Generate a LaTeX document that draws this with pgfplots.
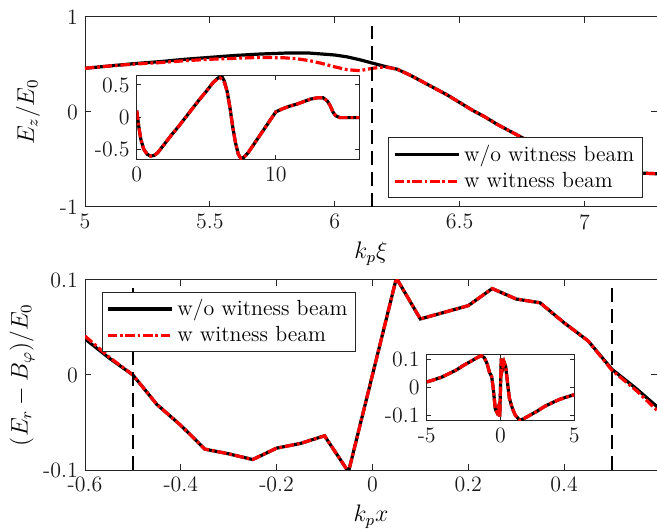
\documentclass[border=0pt]{standalone}
\usepackage{pgfplots}
\pgfplotsset{compat=1.18}
\begin{document}
\begin{tikzpicture}
\pgfplotsset{
  mat/.style={
    scale only axis, anchor=south west,
    axis background/.style={fill=white},
    tick align=inside,
    axis line style={line width=0.5bp, black!85},
    every tick/.style={line width=0.5bp, black!85},
    major tick length=3bp,
    tick label style={font=\fontsize{11}{13}\selectfont, text=black!90, inner sep=0.8bp},
    xticklabel style={yshift=-2.6bp},
    yticklabel style={xshift=-2.6bp},
    label style={font=\fontsize{11.5}{13}\selectfont},
    /pgf/number format/assume math mode=true,
    legend image code/.code={\draw[##1] (0bp,0bp) -- (32bp,0bp);},
  },
  wo/.style={black, line width=1.6bp},
  ww/.style={red, line width=1.6bp, dash pattern=on 4.7bp off 1.4bp on 1.4bp off 1.4bp},
  vline/.style={black, line width=1.1bp, dash pattern=on 7bp off 3.5bp, forget plot},
  leg/.style={draw=black!85, line width=0.5bp, font=\fontsize{11}{13}\selectfont,
        inner xsep=2bp, inner ysep=1.5bp, cells={anchor=west}},
}

% ---------- top panel ----------
\begin{axis}[mat,
    at={(42.5bp,161bp)}, width=286bp, height=95bp,
    xmin=5, xmax=7.29, ymin=-1, ymax=1,
    xtick={5,5.5,6,6.5,7}, ytick={-1,0,1},
    xlabel={$k_p\xi$}, ylabel={$E_z/E_0$},
    xlabel style={at={(axis description cs:0.5,-0.184)}, anchor=north, inner sep=0pt},
    ylabel style={at={(axis description cs:-0.0997,0.5)}, anchor=center, inner sep=0pt},
    legend style={leg, at={(0.975,0.049)}, anchor=south east},
]
\addplot[wo] coordinates {
(5.00,0.46) (5.10,0.485) (5.20,0.51) (5.30,0.53) (5.40,0.555) (5.50,0.575)
(5.60,0.595) (5.70,0.61) (5.80,0.62) (5.90,0.62) (6.00,0.60) (6.05,0.58)
(6.10,0.55) (6.15,0.515) (6.20,0.48) (6.25,0.45) (6.30,0.39) (6.35,0.32)
(6.40,0.25) (6.45,0.18) (6.50,0.10) (6.55,0.02) (6.60,-0.05) (6.65,-0.13)
(6.70,-0.20) (6.75,-0.27) (6.80,-0.34) (6.85,-0.41) (6.90,-0.47) (6.95,-0.52)
(7.00,-0.56) (7.05,-0.59) (7.10,-0.61) (7.15,-0.63) (7.20,-0.64) (7.29,-0.65)};
\addlegendentry{w/o witness beam}
\addplot[ww] coordinates {
(5.00,0.46) (5.10,0.485) (5.20,0.505) (5.30,0.52) (5.40,0.54) (5.50,0.555)
(5.60,0.565) (5.70,0.575) (5.80,0.57) (5.85,0.56) (5.90,0.54) (5.95,0.51)
(6.00,0.475) (6.05,0.445) (6.10,0.435) (6.15,0.46) (6.20,0.475) (6.25,0.45)
(6.30,0.39) (6.35,0.32) (6.40,0.25) (6.45,0.18) (6.50,0.10) (6.55,0.02)
(6.60,-0.05) (6.65,-0.13) (6.70,-0.20) (6.75,-0.27) (6.80,-0.34) (6.85,-0.41)
(6.90,-0.47) (6.95,-0.52) (7.00,-0.56) (7.05,-0.59) (7.10,-0.61) (7.15,-0.63)
(7.20,-0.64) (7.29,-0.65)};
\addlegendentry{w witness beam}
\addplot[vline] coordinates {(6.15,-1) (6.15,0.9)};
\end{axis}

% top inset
\begin{axis}[mat,
    at={(68.35bp,184.85bp)}, width=111.3bp, height=41.65bp,
    xmin=0, xmax=16, ymin=-0.66, ymax=0.64,
    xtick={0,10}, ytick={-0.5,0,0.5}, major tick length=2bp,
]
\addplot[wo] coordinates {
(0,0.10) (0.15,-0.15) (0.3,-0.35) (0.5,-0.50) (0.75,-0.58) (1.0,-0.61)
(1.25,-0.60) (1.5,-0.56) (2.0,-0.42) (2.5,-0.28) (3.0,-0.15) (3.5,-0.01)
(4.0,0.13) (4.5,0.27) (5.0,0.40) (5.5,0.54) (5.8,0.60) (6.0,0.63)
(6.15,0.62) (6.3,0.56) (6.5,0.40) (6.7,0.15) (6.9,-0.15) (7.1,-0.40)
(7.3,-0.58) (7.5,-0.65) (7.7,-0.63) (8.0,-0.56) (8.5,-0.40) (9.0,-0.24)
(9.5,-0.08) (10.0,0.08) (10.5,0.13) (11.0,0.17) (11.5,0.20) (12.0,0.24)
(12.5,0.28) (13.0,0.30) (13.4,0.30) (13.7,0.25) (13.9,0.18) (14.1,0.08)
(14.3,0.02) (14.6,-0.01) (15.0,-0.01) (16.0,-0.01)};
\addplot[ww] coordinates {
(0,0.10) (0.15,-0.15) (0.3,-0.35) (0.5,-0.50) (0.75,-0.58) (1.0,-0.61)
(1.25,-0.60) (1.5,-0.56) (2.0,-0.42) (2.5,-0.28) (3.0,-0.15) (3.5,-0.01)
(4.0,0.13) (4.5,0.27) (5.0,0.40) (5.5,0.54) (5.8,0.59) (6.0,0.61)
(6.15,0.58) (6.3,0.54) (6.5,0.40) (6.7,0.15) (6.9,-0.15) (7.1,-0.40)
(7.3,-0.58) (7.5,-0.65) (7.7,-0.63) (8.0,-0.56) (8.5,-0.40) (9.0,-0.24)
(9.5,-0.08) (10.0,0.08) (10.5,0.13) (11.0,0.17) (11.5,0.20) (12.0,0.24)
(12.5,0.28) (13.0,0.30) (13.4,0.30) (13.7,0.25) (13.9,0.18) (14.1,0.08)
(14.3,0.02) (14.6,-0.01) (15.0,-0.01) (16.0,-0.01)};
\end{axis}

% ---------- bottom panel ----------
\begin{axis}[mat,
    at={(42.5bp,29.5bp)}, width=286bp, height=95bp,
    xmin=-0.6, xmax=0.594, ymin=-0.1, ymax=0.1,
    xtick={-0.6,-0.4,-0.2,0,0.2,0.4}, ytick={-0.1,0,0.1},
    xlabel={$k_p x$}, ylabel={$(E_r-B_\varphi)/E_0$},
    xlabel style={at={(axis description cs:0.5,-0.184)}, anchor=north, inner sep=0pt},
    ylabel style={at={(axis description cs:-0.11,0.5)}, anchor=center, inner sep=0pt},
    legend style={leg, at={(0.029,0.938)}, anchor=north west},
]
\addplot[wo] coordinates {
(-0.60,0.038) (-0.55,0.018) (-0.50,0.000) (-0.45,-0.031) (-0.40,-0.053)
(-0.35,-0.078) (-0.30,-0.083) (-0.25,-0.089) (-0.20,-0.077) (-0.15,-0.072)
(-0.10,-0.064) (-0.05,-0.102) (0.05,0.102) (0.10,0.059) (0.15,0.066)
(0.20,0.073) (0.25,0.091) (0.30,0.080) (0.35,0.076) (0.40,0.055)
(0.45,0.036) (0.50,0.006) (0.55,-0.014) (0.60,-0.036)};
\addlegendentry{w/o witness beam}
\addplot[ww] coordinates {
(-0.60,0.041) (-0.55,0.019) (-0.50,0.000) (-0.45,-0.031) (-0.40,-0.053)
(-0.35,-0.078) (-0.30,-0.083) (-0.25,-0.089) (-0.20,-0.077) (-0.15,-0.072)
(-0.10,-0.064) (-0.05,-0.102) (0.05,0.102) (0.10,0.059) (0.15,0.066)
(0.20,0.073) (0.25,0.091) (0.30,0.080) (0.35,0.076) (0.40,0.055)
(0.45,0.036) (0.50,0.005) (0.55,-0.016) (0.60,-0.040)};
\addlegendentry{w witness beam}
\addplot[vline] coordinates {(-0.5,-0.1) (-0.5,0.092)};
\addplot[vline] coordinates {(0.5,-0.1) (0.5,0.092)};
\end{axis}

% bottom inset
\begin{axis}[mat,
    at={(213.35bp,54.15bp)}, width=73.8bp, height=33.2bp,
    xmin=-5, xmax=5, ymin=-0.12, ymax=0.12,
    xtick={-5,0,5}, ytick={-0.1,0,0.1}, major tick length=2bp,
]
\addplot[wo] coordinates {
(-5,0.020) (-4.5,0.028) (-4,0.037) (-3.5,0.050) (-3,0.063) (-2.5,0.080)
(-2,0.095) (-1.5,0.110) (-1.3,0.115) (-1.1,0.108) (-0.9,0.085) (-0.75,0.055)
(-0.6,0.040) (-0.5,0.000) (-0.35,-0.078) (-0.25,-0.089) (-0.1,-0.064)
(-0.05,-0.105) (0.05,0.105) (0.1,0.059) (0.25,0.091) (0.35,0.076) (0.5,0.006)
(0.6,-0.038) (0.8,-0.075) (1.0,-0.100) (1.3,-0.118) (1.5,-0.115) (2.0,-0.100)
(2.5,-0.085) (3.0,-0.068) (3.5,-0.055) (4.0,-0.043) (4.5,-0.034) (5.0,-0.026)};
\addplot[ww] coordinates {
(-5,0.020) (-4.5,0.028) (-4,0.037) (-3.5,0.050) (-3,0.063) (-2.5,0.080)
(-2,0.095) (-1.5,0.110) (-1.3,0.115) (-1.1,0.108) (-0.9,0.085) (-0.75,0.055)
(-0.6,0.040) (-0.5,0.000) (-0.35,-0.078) (-0.25,-0.089) (-0.1,-0.064)
(-0.05,-0.105) (0.05,0.105) (0.1,0.059) (0.25,0.091) (0.35,0.076) (0.5,0.006)
(0.6,-0.038) (0.8,-0.075) (1.0,-0.100) (1.3,-0.118) (1.5,-0.115) (2.0,-0.100)
(2.5,-0.085) (3.0,-0.068) (3.5,-0.055) (4.0,-0.043) (4.5,-0.034) (5.0,-0.026)};
\end{axis}

\pgfresetboundingbox
\path[use as bounding box] (0bp,0bp) rectangle (328.5bp,264.5bp);
\end{tikzpicture}
\end{document}
